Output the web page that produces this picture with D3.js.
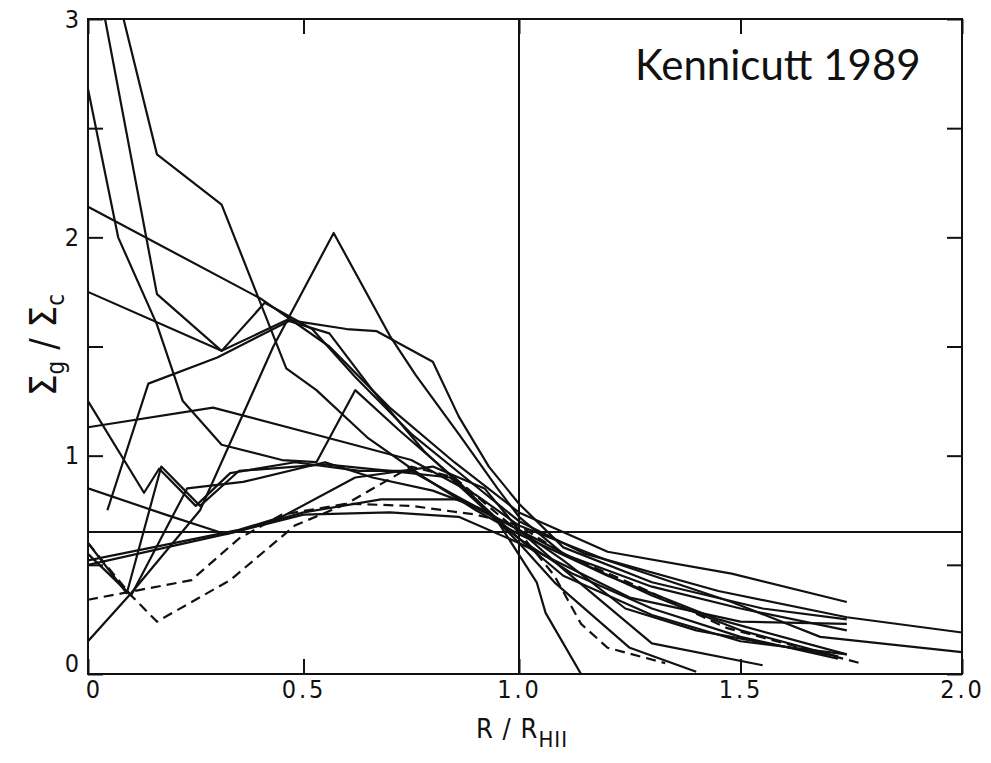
<!DOCTYPE html>
<html>
<head>
<meta charset="utf-8">
<script src="https://cdn.jsdelivr.net/npm/d3@7"></script>
<style>
  body { margin: 0; background: #fff; }
  svg text { fill: #111; }
  .tick text { font-family: "Liberation Sans Narrow", "DejaVu Sans Condensed", sans-serif; font-size: 25px; letter-spacing: 3px; }
</style>
</head>
<body>
<script>
const width = 991, height = 763;
const plotLeft = 88, plotMid = 519, plotRight = 962, plotTop = 19, plotBottom = 674;

// tick labels
const xTicks = [0, 0.5, 1, 1.5, 2];
const xTickLabels = ["0", "0.5", "1.0", "1.5", "2.0"];
const yTicks = [0, 0.5, 1, 1.5, 2, 2.5, 3];
const yTickLabels = ["0", "", "1", "", "2", "", "3"];
const refX = 1.0, refY = 0.65;

// profiles, [R/R_HII, Sigma_g/Sigma_c]
const curveA = [[0.03,3.1],[0.16,1.74],[0.31,1.48],[0.46,1.62],[0.56,1.56],[0.66,1.3],[0.78,1.02],[0.9,0.8],[1.0,0.62],[1.12,0.46],[1.3,0.3],[1.5,0.17],[1.72,0.07]];
const curveB = [[0.07,3.1],[0.16,2.38],[0.31,2.15],[0.46,1.4],[0.53,1.3],[0.65,1.08],[0.78,0.9],[0.9,0.75],[1.0,0.64],[1.2,0.45],[1.45,0.25],[1.74,0.09]];
const curveC = [[0,2.68],[0.07,2.0],[0.16,1.6],[0.22,1.25],[0.31,1.05],[0.45,0.98],[0.53,0.97],[0.62,1.3],[0.72,1.12],[0.86,0.88],[1.0,0.6],[1.08,0.42],[1.25,0.12],[1.4,0.01]];
const curveD = [[0,2.14],[0.4,1.72],[0.56,1.5],[0.7,1.22],[0.85,0.97],[1.0,0.74],[1.2,0.56],[1.48,0.46],[1.74,0.33]];
const curveE = [[0,1.75],[0.31,1.48],[0.41,1.7],[0.52,1.58],[0.62,1.36],[0.75,1.1],[0.9,0.86],[1.0,0.7],[1.15,0.55],[1.45,0.38],[1.74,0.26],[2.0,0.19]];
const curveF = [[0,1.25],[0.13,0.83],[0.165,0.94],[0.25,0.77],[0.33,0.92],[0.48,0.97],[0.63,0.93],[0.75,0.93],[0.85,0.82],[1.0,0.66],[1.1,0.48],[1.3,0.14],[1.55,0.04]];
const curveG = [[0,1.13],[0.29,1.22],[0.56,1.08],[0.75,0.98],[0.9,0.82],[1.0,0.68],[1.2,0.52],[1.48,0.33],[1.68,0.17],[2.0,0.1]];
const curveH = [[0,0.85],[0.18,0.73],[0.32,0.64],[0.5,0.74],[0.68,0.8],[0.86,0.8],[1.0,0.66],[1.15,0.5],[1.3,0.36],[1.5,0.2],[1.72,0.08]];
const curveI = [[0,0.6],[0.09,0.37],[0.17,0.95],[0.26,0.77],[0.35,0.93],[0.55,0.96],[0.7,0.93],[0.84,0.9],[0.95,0.7],[1.04,0.42],[1.06,0.28],[1.14,0]];
const curveJ = [[0,0.5],[0.34,0.65],[0.5,0.73],[0.7,0.74],[0.86,0.72],[1.0,0.6],[1.1,0.5],[1.25,0.35],[1.5,0.24],[1.74,0.23]];
const curveK = [[0,0.15],[0.1,0.37],[0.26,0.75],[0.43,1.5],[0.57,2.02],[0.7,1.55],[0.76,1.37],[0.86,1.1],[0.95,0.85],[1.0,0.72],[1.1,0.55],[1.3,0.4],[1.5,0.3],[1.74,0.2]];
const curveL = [[0.045,0.75],[0.14,1.33],[0.3,1.45],[0.47,1.62],[0.6,1.58],[0.67,1.57],[0.8,1.43],[0.86,1.18],[0.93,0.95],[1.0,0.78],[1.1,0.58],[1.3,0.42],[1.55,0.3],[1.74,0.25]];
const curveM = [[0,0.52],[0.15,0.58],[0.35,0.66],[0.45,0.72],[0.62,0.9],[0.8,0.95],[0.92,0.85],[1.0,0.66],[1.1,0.52],[1.24,0.3],[1.4,0.2],[1.72,0.08]];
const curveN = [[0,0.55],[0.1,0.36],[0.23,0.85],[0.36,0.88],[0.55,0.97],[0.66,0.9],[0.8,0.84],[0.92,0.75],[1.0,0.62],[1.1,0.45],[1.3,0.27],[1.5,0.15],[1.74,0.09]];
const dashA = [[0,0.34],[0.24,0.43],[0.35,0.62],[0.45,0.73],[0.6,0.78],[0.75,0.77],[0.9,0.73],[1.0,0.68],[1.1,0.55],[1.27,0.4],[1.47,0.21],[1.6,0.14],[1.77,0.05]];
const dashB = [[0,0.6],[0.1,0.36],[0.16,0.24],[0.33,0.43],[0.48,0.68],[0.6,0.78],[0.75,0.95],[0.85,0.9],[1.0,0.65],[1.08,0.45],[1.14,0.23],[1.2,0.12],[1.33,0.05]];

const solidCurves = [curveA, curveB, curveC, curveD, curveE, curveF, curveG, curveH, curveI, curveJ, curveK, curveL, curveM, curveN];
const dashedCurves = [dashA, dashB];

const svg = d3.select("body").append("svg")
    .attr("width", width)
    .attr("height", height)

// the scanned axis is slightly stretched on the right half
const x = d3.scaleLinear().domain([0, 1, 2]).range([plotLeft, plotMid, plotRight])
const y = d3.scaleLinear().domain([0, 3]).range([plotBottom, plotTop])

svg.append("clipPath").attr("id", "plot")
  .append("rect")
    .attr("x", plotLeft).attr("y", plotTop)
    .attr("width", plotRight - plotLeft).attr("height", plotBottom - plotTop)

const line = d3.line().x(d => x(d[0])).y(d => y(d[1]))

const lines = svg.append("g").attr("clip-path", "url(#plot)")
lines.selectAll(".solid")
    .data(solidCurves)
    .enter()
    .append("path")
    .attr("class", "solid")
    .attr("d", line)
    .attr("fill", "none")
    .attr("stroke", "#111")
    .attr("stroke-width", 2.2)
    .attr("stroke-linejoin", "round")
lines.selectAll(".dashed")
    .data(dashedCurves)
    .enter()
    .append("path")
    .attr("class", "dashed")
    .attr("d", line)
    .attr("fill", "none")
    .attr("stroke", "#111")
    .attr("stroke-width", 2.2)
    .attr("stroke-dasharray", "10,6")

// reference lines
svg.append("line")
    .attr("x1", x(refX)).attr("x2", x(refX))
    .attr("y1", y(0)).attr("y2", y(3))
    .attr("stroke", "#111").attr("stroke-width", 2)
svg.append("line")
    .attr("x1", x(0)).attr("x2", x(2))
    .attr("y1", y(refY)).attr("y2", y(refY))
    .attr("stroke", "#111").attr("stroke-width", 2)

// axes, ticks pointing inward
const fmtX = (d, i) => xTickLabels[i]
const fmtY = (d, i) => yTickLabels[i]

const xAxis = svg.append("g")
    .attr("transform", "translate(0," + plotBottom + ")")
    .call(d3.axisBottom(x).tickValues(xTicks).tickFormat(fmtX).tickSizeInner(-15).tickSizeOuter(0).tickPadding(6))
const yAxis = svg.append("g")
    .attr("transform", "translate(" + plotLeft + ",0)")
    .call(d3.axisLeft(y).tickValues(yTicks).tickFormat(fmtY).tickSizeInner(-15).tickSizeOuter(0).tickPadding(6))
const xTop = svg.append("g")
    .attr("transform", "translate(0," + plotTop + ")")
    .call(d3.axisTop(x).tickValues(xTicks).tickFormat("").tickSizeInner(-15).tickSizeOuter(0))
const yRight = svg.append("g")
    .attr("transform", "translate(" + plotRight + ",0)")
    .call(d3.axisRight(y).tickValues(yTicks).tickFormat("").tickSizeInner(-15).tickSizeOuter(0))

svg.selectAll(".tick line").attr("stroke", "#111").attr("stroke-width", 2)
svg.selectAll(".domain").remove()

// nudge the corner zeros like the scan
xAxis.selectAll(".tick text").filter(d => d === 0).attr("dx", 6)
yAxis.selectAll(".tick text").filter(d => d === 0).attr("dy", "-0.1em")

svg.append("rect")
    .attr("x", plotLeft).attr("y", plotTop)
    .attr("width", plotRight - plotLeft).attr("height", plotBottom - plotTop)
    .attr("fill", "none").attr("stroke", "#111").attr("stroke-width", 2)

// axis titles
const xTitle = svg.append("text")
    .attr("x", 522).attr("y", 738)
    .attr("text-anchor", "middle")
    .style("font-family", "'Liberation Sans Narrow', 'DejaVu Sans Condensed', sans-serif")
    .style("font-size", "27px")
    .style("letter-spacing", "1px")
xTitle.append("tspan").text("R / R")
xTitle.append("tspan").attr("dy", 9).style("font-size", "22px").text("HII")

const yTitle = svg.append("text")
    .attr("transform", "translate(56,345) rotate(-90)")
    .attr("text-anchor", "middle")
    .style("font-family", "'Liberation Sans Narrow', 'DejaVu Sans Condensed', sans-serif")
    .style("font-size", "38px")
yTitle.append("tspan").text("Σ")
yTitle.append("tspan").attr("dy", 8).style("font-size", "24px").text("g")
yTitle.append("tspan").attr("dy", -8).text(" / Σ")
yTitle.append("tspan").attr("dy", 8).style("font-size", "24px").text("c")

svg.append("text")
    .attr("x", 635).attr("y", 80)
    .style("font-family", "Lato, 'Open Sans', sans-serif")
    .style("font-size", "42px")
    .text("Kennicutt 1989")
</script>
</body>
</html>
